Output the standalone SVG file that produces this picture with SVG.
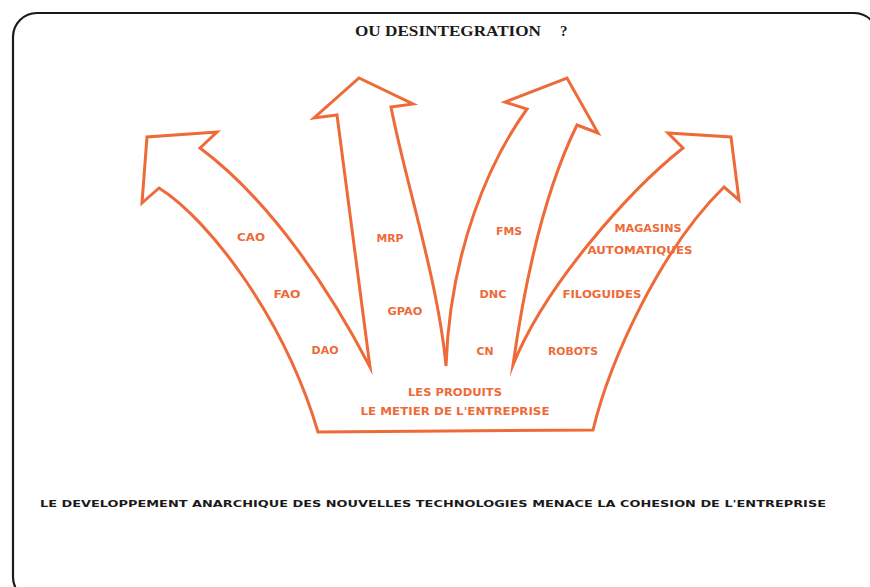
<svg xmlns="http://www.w3.org/2000/svg" width="870" height="587" viewBox="0 0 870 587">
  <style>
    .frame { fill: none; stroke: #1a1a1a; stroke-width: 2.2; }
    .title { font-family: "Liberation Serif", "Times New Roman", serif; font-weight: bold; font-size: 15px; fill: #1a1a1a; }
    .caption { font-family: "DejaVu Sans", "Liberation Sans", sans-serif; font-weight: bold; font-size: 9.5px; fill: #1a1a1a; }
    .outline { fill: none; stroke: #EE6A38; stroke-width: 3; stroke-linejoin: miter; stroke-miterlimit: 10; }
    .lbl { font-family: "DejaVu Sans", "Liberation Sans", sans-serif; font-weight: bold; font-size: 10.5px; fill: #EE6A38; text-anchor: middle; }
  </style>

  <rect width="870" height="587" fill="#ffffff"/>

  <!-- rounded frame, running off the right and bottom edges -->
  <g id="frame">
    <rect class="frame" x="13" y="13" width="865" height="588" rx="24" ry="24"/>
  </g>

  <g id="title">
    <text class="title" x="355" y="36" textLength="186" lengthAdjust="spacingAndGlyphs">OU DESINTEGRATION</text>
    <text class="title" x="560" y="36">?</text>
  </g>

  <!-- base with four diverging arrows, drawn as one outline -->
  <g id="arrows">
    <path class="outline" d="
      M 318,432 L 593,430
      C 610,360 660,250 724,187
      L 739,200 L 731,137 L 668,133 L 683,148
      C 630,190 545,285 513,365
      C 525,280 545,190 577,125
      L 598,133 L 567,78 L 505,102 L 527,109
      C 490,160 450,250 446,366
      C 438,280 405,180 391,107
      L 413,104 L 359,78 L 314,118 L 337,115
      L 370,367
      C 330,290 270,200 200,148
      L 217,132 L 147,137 L 142,203 L 159,188
      C 210,220 285,320 318,432 Z"/>
  </g>

  <g id="arrow-cao">
    <text class="lbl" x="251" y="241" textLength="28" lengthAdjust="spacingAndGlyphs">CAO</text>
    <text class="lbl" x="287" y="298" textLength="27" lengthAdjust="spacingAndGlyphs">FAO</text>
    <text class="lbl" x="325" y="354" textLength="27" lengthAdjust="spacingAndGlyphs">DAO</text>
  </g>

  <g id="arrow-mrp">
    <text class="lbl" x="390" y="242" textLength="27" lengthAdjust="spacingAndGlyphs">MRP</text>
    <text class="lbl" x="405" y="315" textLength="35" lengthAdjust="spacingAndGlyphs">GPAO</text>
  </g>

  <g id="arrow-fms">
    <text class="lbl" x="509" y="235" textLength="26" lengthAdjust="spacingAndGlyphs">FMS</text>
    <text class="lbl" x="493" y="298" textLength="27" lengthAdjust="spacingAndGlyphs">DNC</text>
    <text class="lbl" x="485" y="355" textLength="17" lengthAdjust="spacingAndGlyphs">CN</text>
  </g>

  <g id="arrow-magasins">
    <text class="lbl" x="648" y="232" textLength="67" lengthAdjust="spacingAndGlyphs">MAGASINS</text>
    <text class="lbl" x="640" y="254" textLength="105" lengthAdjust="spacingAndGlyphs">AUTOMATIQUES</text>
    <text class="lbl" x="602" y="298" textLength="79" lengthAdjust="spacingAndGlyphs">FILOGUIDES</text>
    <text class="lbl" x="573" y="355" textLength="50" lengthAdjust="spacingAndGlyphs">ROBOTS</text>
  </g>

  <g id="base">
    <text class="lbl" x="455" y="396" textLength="94" lengthAdjust="spacingAndGlyphs">LES PRODUITS</text>
    <text class="lbl" x="455" y="415" textLength="189" lengthAdjust="spacingAndGlyphs">LE METIER DE L'ENTREPRISE</text>
  </g>

  <g id="caption">
    <text class="caption" x="40" y="507" textLength="786" lengthAdjust="spacingAndGlyphs">LE DEVELOPPEMENT ANARCHIQUE DES NOUVELLES TECHNOLOGIES MENACE LA COHESION DE L'ENTREPRISE</text>
  </g>
</svg>
